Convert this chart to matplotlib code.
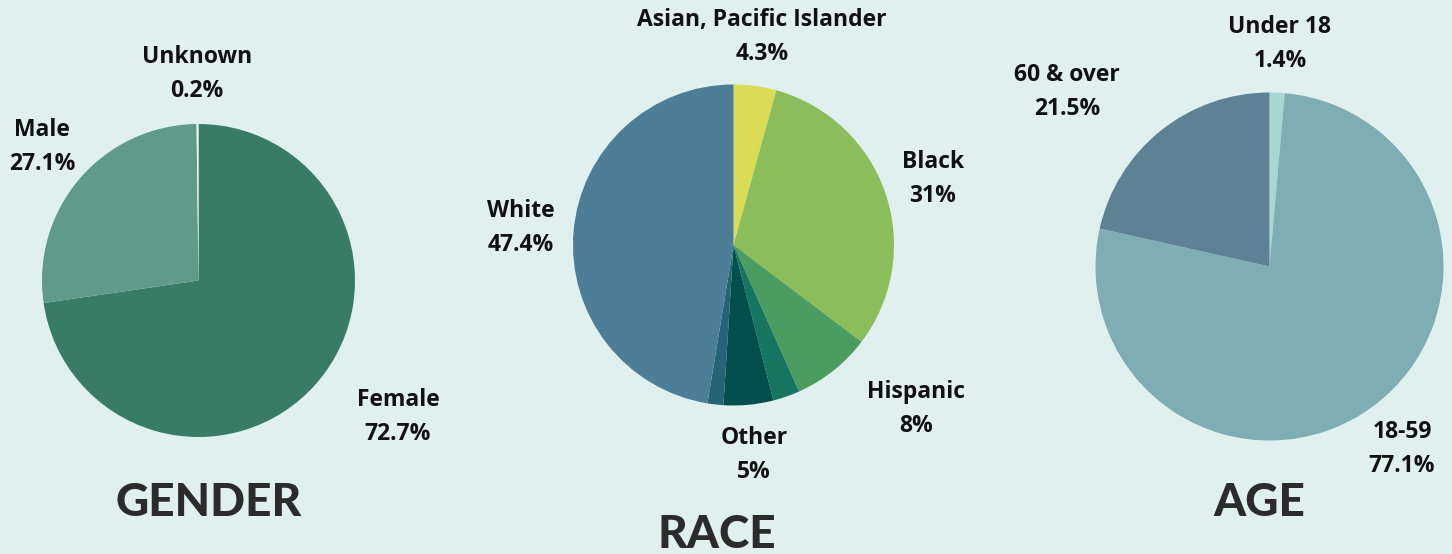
import matplotlib
matplotlib.use("Agg")
import matplotlib.pyplot as plt

W, H = 1452, 554
BG = "#dff0ee"

# data
gender_names = ["Female", "Male", "Unknown"]
gender_vals = [72.7, 27.1, 0.2]
gender_cols = ["#397c66", "#5f9a8b", "#eaf5f3"]

race_names = ["Asian, Pacific Islander", "Black", "Hispanic", "", "Other", "", "White"]
race_vals = [4.3, 31, 8, 2.7, 5, 1.6, 47.4]
race_cols = ["#dadc55", "#8bbe5b", "#4a9c61", "#157560", "#034f4d", "#246474", "#4d7e97"]
race_pct = ["4.3%", "31%", "8%", "", "5%", "", "47.4%"]

age_names = ["Under 18", "18-59", "60 & over"]
age_vals = [1.4, 77.1, 21.5]
age_cols = ["#a8d6d2", "#7eadb3", "#5e8293"]

fig = plt.figure(figsize=(W / 100, H / 100), dpi=100)
fig.patch.set_facecolor(BG)


def pie_axes(cx, cy, r):
    ax = fig.add_axes([(cx - r) / W, 1 - (cy + r) / H, 2 * r / W, 2 * r / H])
    return ax


def finish(ax):
    ax.set_xlim(-1, 1)
    ax.set_ylim(-1, 1)
    ax.axis("off")


def label(x, y, name, pct):
    kw = dict(ha="center", va="center", fontsize=16.5, fontweight="bold",
              family=["Open Sans", "DejaVu Sans"], color="#111111")
    fig.text(x / W, 1 - y / H, name, **kw)
    fig.text(x / W, 1 - (y + 34) / H, pct, **kw)


def title(x, y, s):
    fig.text(x / W, 1 - y / H, s, ha="center", va="center", fontsize=33,
             fontweight="black", family=["Lato", "DejaVu Sans"], color="#2b2b2b")


ax1 = pie_axes(198.5, 280.5, 156.5)
ax1.pie(gender_vals, colors=gender_cols, startangle=90, counterclock=False, radius=1)
finish(ax1)
ax2 = pie_axes(733.5, 245, 160.5)
ax2.pie(race_vals, colors=race_cols, startangle=90, counterclock=False, radius=1)
finish(ax2)
ax3 = pie_axes(1269.5, 266.5, 174)
ax3.pie(age_vals, colors=age_cols, startangle=90, counterclock=False, radius=1)
finish(ax3)

# labels
gender_pos = [(398, 400), (42, 130), (197, 57)]
for (x, y), n, v in zip(gender_pos, gender_names, gender_vals):
    label(x, y, n, f"{v}%")

race_pos = [(762, 20), (933, 162), (916, 392), None, (754, 438), None, (521, 211)]
for p, n, s in zip(race_pos, race_names, race_pct):
    if p is not None:
        label(p[0], p[1], n, s)

age_pos = [(1280, 27), (1402, 432), (1067, 75)]
for (x, y), n, v in zip(age_pos, age_names, age_vals):
    label(x, y, n, f"{v}%")

title(209, 503, "GENDER")
title(717, 535, "RACE")
title(1259, 503, "AGE")

fig.savefig("out.png", dpi=100, facecolor=BG)
